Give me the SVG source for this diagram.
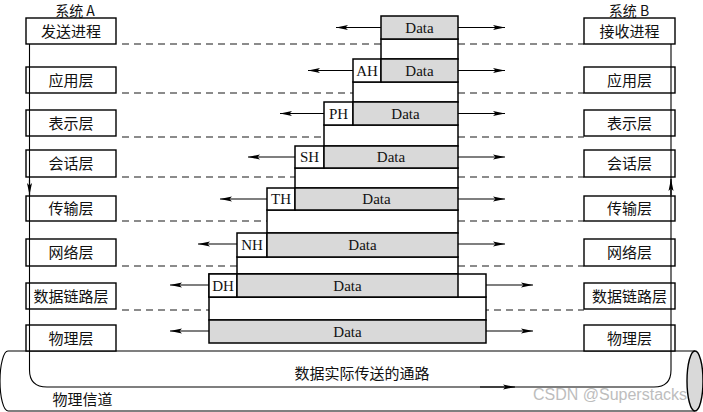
<svg xmlns="http://www.w3.org/2000/svg" width="703" height="412" viewBox="0 0 703 412">
<defs>
<marker id="ah" viewBox="0 0 12 6" refX="12" refY="3" markerWidth="12" markerHeight="6" markerUnits="userSpaceOnUse" orient="auto"><path d="M0,0.5 L12,3 L0,5.5 L2.5,3 z" fill="#000"/></marker>
<style>
.box{fill:#fff;stroke:#000;stroke-width:1.4}
.pk{fill:#fff;stroke:#000;stroke-width:1.5}
.g{fill:#d9d9d9;stroke:#000;stroke-width:1.5}
.dash{stroke:#666;stroke-width:1.4;stroke-dasharray:7 5;fill:none}
.ar{stroke:#000;stroke-width:1.2;fill:none;marker-end:url(#ah)}
.ln{stroke:#000;stroke-width:1.1;fill:none}
.cn{font-family:"Noto Sans CJK SC","Liberation Serif",sans-serif;font-size:15px;fill:#111;text-anchor:middle}
.hd{font-family:"Noto Sans CJK SC","Liberation Serif",sans-serif;font-size:14px;fill:#111;text-anchor:middle}
.sf{font-family:"Liberation Serif",serif;font-size:15px;fill:#111;text-anchor:middle}
.wm{font-family:"Liberation Sans",sans-serif;font-size:16px;fill:#bdbdbd;text-anchor:middle}
</style>
</defs>
<rect width="703" height="412" fill="#fff"/>
<!-- pipe -->
<g id="pipe">
<path d="M8,351 L695,351 M8,411 L695,411 M8,351 A8,30 0 0 0 8,411" class="ln" stroke-width="1.4"/>
<ellipse cx="695" cy="381" rx="8" ry="30" fill="#d9d9d9" stroke="#000" stroke-width="1.4"/>
<text class="cn" x="362" y="379">数据实际传送的通路</text>
<text class="cn" x="82.5" y="405">物理信道</text>
</g>
<!-- dashed peer lines -->
<g id="peer-lines">
<path class="dash" d="M122,44H584 M122,93H584 M122,137H584 M122,177H584 M122,221H584 M122,266H584 M122,310H584"/>
</g>
<g id="sysA">
<text class="hd" x="75" y="16">系统 A</text>
<g id="a-proc"><rect class="box" x="26" y="18" width="90" height="26"/><text class="cn" x="71" y="36.5">发送进程</text></g>
<g id="a-app"><rect class="box" x="26" y="67" width="90" height="26"/><text class="cn" x="71" y="85.5">应用层</text></g>
<g id="a-pre"><rect class="box" x="26" y="110" width="90" height="26"/><text class="cn" x="71" y="128.5">表示层</text></g>
<g id="a-ses"><rect class="box" x="26" y="150" width="90" height="27"/><text class="cn" x="71" y="169">会话层</text></g>
<g id="a-tra"><rect class="box" x="26" y="196" width="90" height="25"/><text class="cn" x="71" y="214">传输层</text></g>
<g id="a-net"><rect class="box" x="26" y="239" width="90" height="27"/><text class="cn" x="71" y="258">网络层</text></g>
<g id="a-dl"><rect class="box" x="26" y="283" width="90" height="26"/><text class="cn" x="71" y="301.5">数据链路层</text></g>
<g id="a-phy"><rect class="box" x="26" y="325" width="90" height="26"/><text class="cn" x="71" y="343.5">物理层</text></g>
</g>
<g id="sysB">
<text class="hd" x="629" y="16">系统 B</text>
<g id="b-proc"><rect class="box" x="584" y="18" width="91" height="26"/><text class="cn" x="629.5" y="36.5">接收进程</text></g>
<g id="b-app"><rect class="box" x="584" y="67" width="91" height="26"/><text class="cn" x="629.5" y="85.5">应用层</text></g>
<g id="b-pre"><rect class="box" x="584" y="110" width="91" height="26"/><text class="cn" x="629.5" y="128.5">表示层</text></g>
<g id="b-ses"><rect class="box" x="584" y="150" width="91" height="27"/><text class="cn" x="629.5" y="169">会话层</text></g>
<g id="b-tra"><rect class="box" x="584" y="196" width="91" height="25"/><text class="cn" x="629.5" y="214">传输层</text></g>
<g id="b-net"><rect class="box" x="584" y="239" width="91" height="27"/><text class="cn" x="629.5" y="258">网络层</text></g>
<g id="b-dl"><rect class="box" x="584" y="283" width="91" height="26"/><text class="cn" x="629.5" y="301.5">数据链路层</text></g>
<g id="b-phy"><rect class="box" x="584" y="325" width="91" height="26"/><text class="cn" x="629.5" y="343.5">物理层</text></g>
</g>
<!-- packet stack -->
<g id="stack">
<rect class="pk" x="381" y="39" width="77" height="20"/>
<rect class="pk" x="353" y="82" width="105" height="20"/>
<rect class="pk" x="324" y="125" width="134" height="21"/>
<rect class="pk" x="295" y="168" width="163" height="20"/>
<rect class="pk" x="267" y="210" width="191" height="23"/>
<rect class="pk" x="237" y="257" width="221" height="17"/>
<rect class="pk" x="209" y="297" width="277" height="23"/>
<g id="p-app"><rect class="g" x="381" y="16" width="77" height="23"/><text class="sf" x="419.5" y="32.5">Data</text></g>
<g id="p-pre"><rect class="pk" x="353" y="59" width="28" height="23"/><text class="sf" x="367" y="75.5">AH</text><rect class="g" x="381" y="59" width="77" height="23"/><text class="sf" x="419.5" y="75.5">Data</text></g>
<g id="p-ses"><rect class="pk" x="324" y="102" width="29" height="23"/><text class="sf" x="338.5" y="118.5">PH</text><rect class="g" x="353" y="102" width="105" height="23"/><text class="sf" x="405.5" y="118.5">Data</text></g>
<g id="p-tra"><rect class="pk" x="295" y="146" width="29" height="22"/><text class="sf" x="309.5" y="162">SH</text><rect class="g" x="324" y="146" width="134" height="22"/><text class="sf" x="391" y="162">Data</text></g>
<g id="p-net"><rect class="pk" x="267" y="188" width="28" height="22"/><text class="sf" x="281" y="204">TH</text><rect class="g" x="295" y="188" width="163" height="22"/><text class="sf" x="376.5" y="204">Data</text></g>
<g id="p-dl"><rect class="pk" x="237" y="233" width="30" height="24"/><text class="sf" x="252" y="250">NH</text><rect class="g" x="267" y="233" width="191" height="24"/><text class="sf" x="362.5" y="250">Data</text></g>
<g id="p-phy"><rect class="pk" x="209" y="274" width="277" height="23"/><rect class="pk" x="209" y="274" width="28" height="23"/><text class="sf" x="223" y="290.5">DH</text><rect class="g" x="237" y="274" width="221" height="23"/><text class="sf" x="347.5" y="290.5">Data</text></g>
<g id="p-bits"><rect class="g" x="209" y="320" width="277" height="23"/><text class="sf" x="347.5" y="336.5">Data</text></g>
</g>
<g id="connectors">
<path class="ar" d="M381,27.5H336"/><path class="ar" d="M458,27.5H505"/>
<path class="ar" d="M353,70.5H308"/><path class="ar" d="M458,70.5H505"/>
<path class="ar" d="M324,113.5H280"/><path class="ar" d="M458,113.5H505"/>
<path class="ar" d="M295,157H248"/><path class="ar" d="M458,157H505"/>
<path class="ar" d="M267,199H220"/><path class="ar" d="M458,199H505"/>
<path class="ar" d="M237,244H198"/><path class="ar" d="M458,244H505"/>
<path class="ar" d="M209,285H170"/><path class="ar" d="M486,285H533"/>
<path class="ar" d="M209,331H170"/><path class="ar" d="M486,331H533"/>
<path class="ln" d="M29.5,44V370Q29.5,387 47,387H654Q671,387 671,370V44"/>
<path class="ar" d="M29.5,180V195"/>
<path class="ar" d="M671,195V179"/>
<path class="ar" d="M480,387H515"/>
</g>
<text class="wm" x="610" y="400">CSDN @Superstacks</text>
</svg>
